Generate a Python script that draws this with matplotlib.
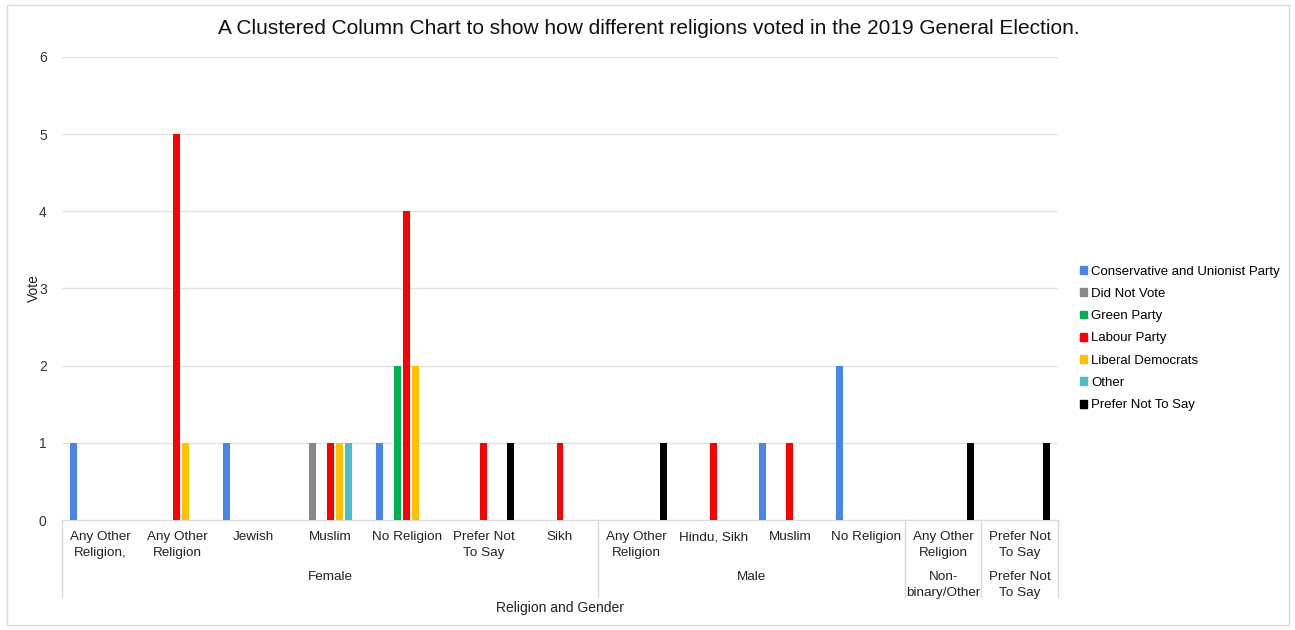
import numpy as np
import matplotlib.pyplot as plt
from matplotlib.patches import Patch, Rectangle

plt.rcParams['font.family'] = ['Liberation Sans', 'DejaVu Sans']

# Religion labels (inner level) and gender labels (outer level)
religions = ["Any Other\nReligion,", "Any Other\nReligion", "Jewish", "Muslim", "No Religion",
             "Prefer Not\nTo Say", "Sikh",
             "Any Other\nReligion", "Hindu, Sikh", "Muslim", "No Religion",
             "Any Other\nReligion", "Prefer Not\nTo Say"]
genders = ["Female", "Male", "Non-\nbinary/Other", "Prefer Not\nTo Say"]
gender_sizes = [7, 4, 1, 1]

parties = ["Conservative and Unionist Party", "Did Not Vote", "Green Party", "Labour Party",
           "Liberal Democrats", "Other", "Prefer Not To Say"]
colors = ["#4a86e8", "#888888", "#00b050", "#ff0000", "#ffc000", "#4bbdc6", "#000000"]

conservative = [1, 0, 1, 0, 1, 0, 0, 0, 0, 1, 2, 0, 0]
did_not_vote = [0, 0, 0, 1, 0, 0, 0, 0, 0, 0, 0, 0, 0]
green = [0, 0, 0, 0, 2, 0, 0, 0, 0, 0, 0, 0, 0]
labour = [0, 5, 0, 1, 4, 1, 1, 0, 1, 1, 0, 0, 0]
lib_dem = [0, 1, 0, 1, 2, 0, 0, 0, 0, 0, 0, 0, 0]
other = [0, 0, 0, 1, 0, 0, 0, 0, 0, 0, 0, 0, 0]
prefer_not = [0, 0, 0, 0, 0, 1, 0, 1, 0, 0, 0, 1, 1]
series = [conservative, did_not_vote, green, labour, lib_dem, other, prefer_not]

fig = plt.figure(figsize=(12.95, 6.3), dpi=100)
ax = fig.add_axes([62 / 1295, 1 - 520 / 630, 996 / 1295, 463 / 630])

# frame around whole chart
fig.patches.append(Rectangle((7 / 1295, 5 / 630), 1282 / 1295, 620 / 630, transform=fig.transFigure,
                             fill=False, edgecolor="#d9d9d9", linewidth=1))

x = np.arange(len(religions))
step = 0.1175
pad = (1 - step * len(parties)) / 2
for j, (vals, c) in enumerate(zip(series, colors)):
    ax.bar(x + pad + (j + 0.5) * step, vals, width=0.09, color=c, linewidth=0, zorder=3)

ax.set_xlim(0, len(religions))
ax.set_ylim(0, 6)
ax.set_yticks(range(7))
ax.grid(axis="y", color="#e3e3e3", linewidth=1, zorder=0)
for s in ["left", "right", "top"]:
    ax.spines[s].set_visible(False)
ax.spines["bottom"].set_color("#d9d9d9")
ax.tick_params(axis="y", length=0, pad=11, labelsize=10, labelcolor="#333333")
ax.set_xticks([])

# two-level category axis
tr = ax.get_xaxis_transform()
h = 463.0
for i, lab in enumerate(religions):
    ax.text(i + 0.5, -11 / h, lab, transform=tr, ha="center", va="top", fontsize=9.7,
            color="#222222", linespacing=1.4)
edges = np.concatenate([[0], np.cumsum(gender_sizes)])
for k, g in enumerate(genders):
    ax.text((edges[k] + edges[k + 1]) / 2, -51 / h, g, transform=tr, ha="center", va="top",
            fontsize=9.7, color="#222222", linespacing=1.4)
for e in edges:
    ax.plot([e, e], [0, -77 / h], transform=tr, color="#d9d9d9", linewidth=1, clip_on=False)

ax.text(0.5, -88 / h, "Religion and Gender", transform=ax.transAxes, ha="center", va="center",
        fontsize=10, color="#222222")
ax.set_ylabel("Vote", fontsize=10, color="#222222")
ax.yaxis.set_label_coords(-21 / 996, 0.5)

fig.text(649 / 1295, 1 - 29 / 630, "A Clustered Column Chart to show how different religions voted in the 2019 General Election.",
         ha="center", va="center", fontsize=15, color="#111111")

handles = [Patch(color=c, label=p) for p, c in zip(parties, colors)]
fig.legend(handles=handles, loc="upper left", bbox_to_anchor=(1073 / 1295, 1 - 259 / 630),
           frameon=False, fontsize=9.5, handlelength=0.55, handleheight=0.55, handletextpad=0.35,
           labelspacing=0.78, borderpad=0)

fig.savefig("out.png", dpi=100, facecolor="white")
